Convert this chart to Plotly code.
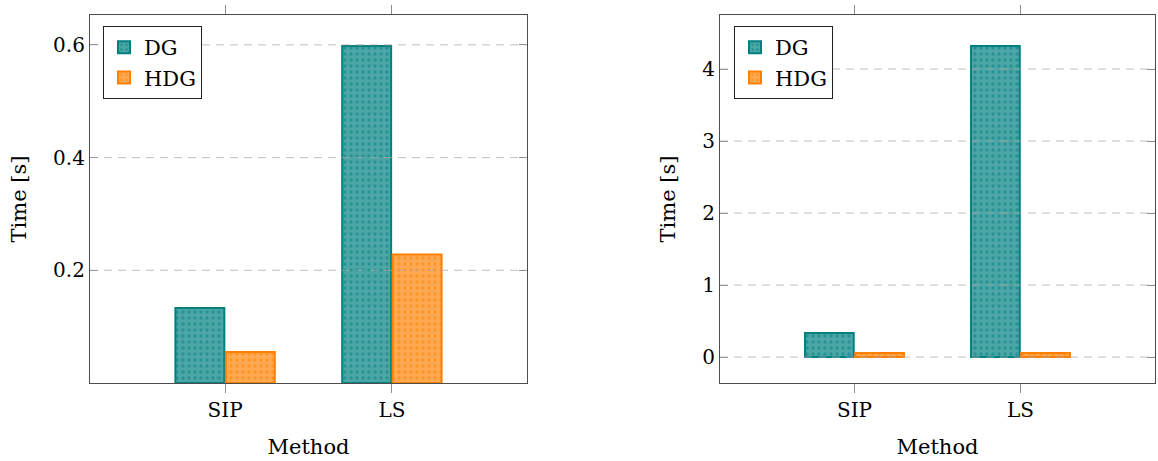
import plotly.graph_objects as go

# Run times per method, for two test cases
methods = ["SIP", "LS"]
left_dg = [0.133, 0.598]
left_hdg = [0.055, 0.228]
right_dg = [0.333, 4.32]
right_hdg = [0.058, 0.058]

left_ticks = [0.2, 0.4, 0.6]
left_ticktext = ["0.2", "0.4", "0.6"]
right_ticks = [0, 1, 2, 3, 4]
right_ticktext = ["0", "1", "2", "3", "4"]

TEAL = "rgb(0,128,128)"
ORANGE = "rgb(255,128,0)"
FONT = "DejaVu Serif"
FS = 20
TFS = 21

W, H = 1158, 461


def bar(name, x, y, color, fill, xa, ya, legend):
    return go.Bar(
        name=name, x=x, y=y, xaxis=xa, yaxis=ya, legend=legend,
        marker=dict(
            color=fill,
            line=dict(color=color, width=2),
            pattern=dict(shape=".", fillmode="overlay", fgcolor=color,
                         fgopacity=0.5, size=6, solidity=0.25),
        ),
    )


fig = go.Figure()
fig.add_trace(bar("DG", methods, left_dg, TEAL, "rgba(0,128,128,0.7)", "x", "y", "legend"))
fig.add_trace(bar("HDG", methods, left_hdg, ORANGE, "rgba(255,128,0,0.68)", "x", "y", "legend"))
fig.add_trace(bar("DG", methods, right_dg, TEAL, "rgba(0,128,128,0.7)", "x2", "y2", "legend2"))
fig.add_trace(bar("HDG", methods, right_hdg, ORANGE, "rgba(255,128,0,0.68)", "x2", "y2", "legend2"))

# plot-area boxes in pixels
top_px, bot_px = 15, 383
ydom = [(H - bot_px) / H, (H - top_px) / H]
xdom1 = [90 / W, 527 / W]
xdom2 = [720 / W, 1155 / W]

axis_common = dict(
    showline=True, linecolor="#4d4d4d", linewidth=1.2, mirror="ticks",
    tickcolor="#8c8c8c", tickwidth=1, showgrid=False, zeroline=False,
    tickfont=dict(family=FONT, size=FS, color="#000"),
    title_font=dict(family=FONT, size=TFS, color="#000"),
)

xcommon = dict(axis_common, ticks="outside", ticklen=9, range=[-0.81, 1.81],
               type="category", title_text="Method", title_standoff=18)
fig.update_layout(
    xaxis=dict(xcommon, domain=xdom1, anchor="y"),
    xaxis2=dict(xcommon, domain=xdom2, anchor="y2"),
    yaxis=dict(axis_common, domain=ydom, anchor="x", range=[0, 0.653],
               tickvals=left_ticks, ticktext=left_ticktext,
               ticks="inside", ticklen=8, title_text="Time [s]", title_standoff=20),
    yaxis2=dict(axis_common, domain=ydom, anchor="x2", range=[-0.36, 4.75],
                tickvals=right_ticks, ticktext=right_ticktext,
                ticks="inside", ticklen=8, title_text="Time [s]", title_standoff=20),
)

# dashed horizontal grid drawn over the bars
for ticks, xr, yr in [(left_ticks, "x domain", "y"), (right_ticks, "x2 domain", "y2")]:
    for t in ticks:
        fig.add_shape(type="line", xref=xr, yref=yr, x0=0, x1=1, y0=t, y1=t,
                      layer="above", line=dict(color="rgba(170,170,170,0.75)",
                                               width=1, dash="8px,6px"))

legend_style = dict(
    bgcolor="white", bordercolor="#222", borderwidth=1,
    font=dict(family=FONT, size=TFS, color="#000"),
    xanchor="left", yanchor="top", tracegroupgap=0,
)
fig.update_layout(
    legend=dict(legend_style, x=103 / W, y=(H - 26) / H),
    legend2=dict(legend_style, x=734 / W, y=(H - 26) / H),
    barmode="group", bargap=0.395, bargroupgap=0.03,
    width=W, height=H, margin=dict(l=0, r=0, t=0, b=0),
    plot_bgcolor="white", paper_bgcolor="white",
    font=dict(family=FONT, size=FS, color="#000"),
)

fig.write_html("out.html")
